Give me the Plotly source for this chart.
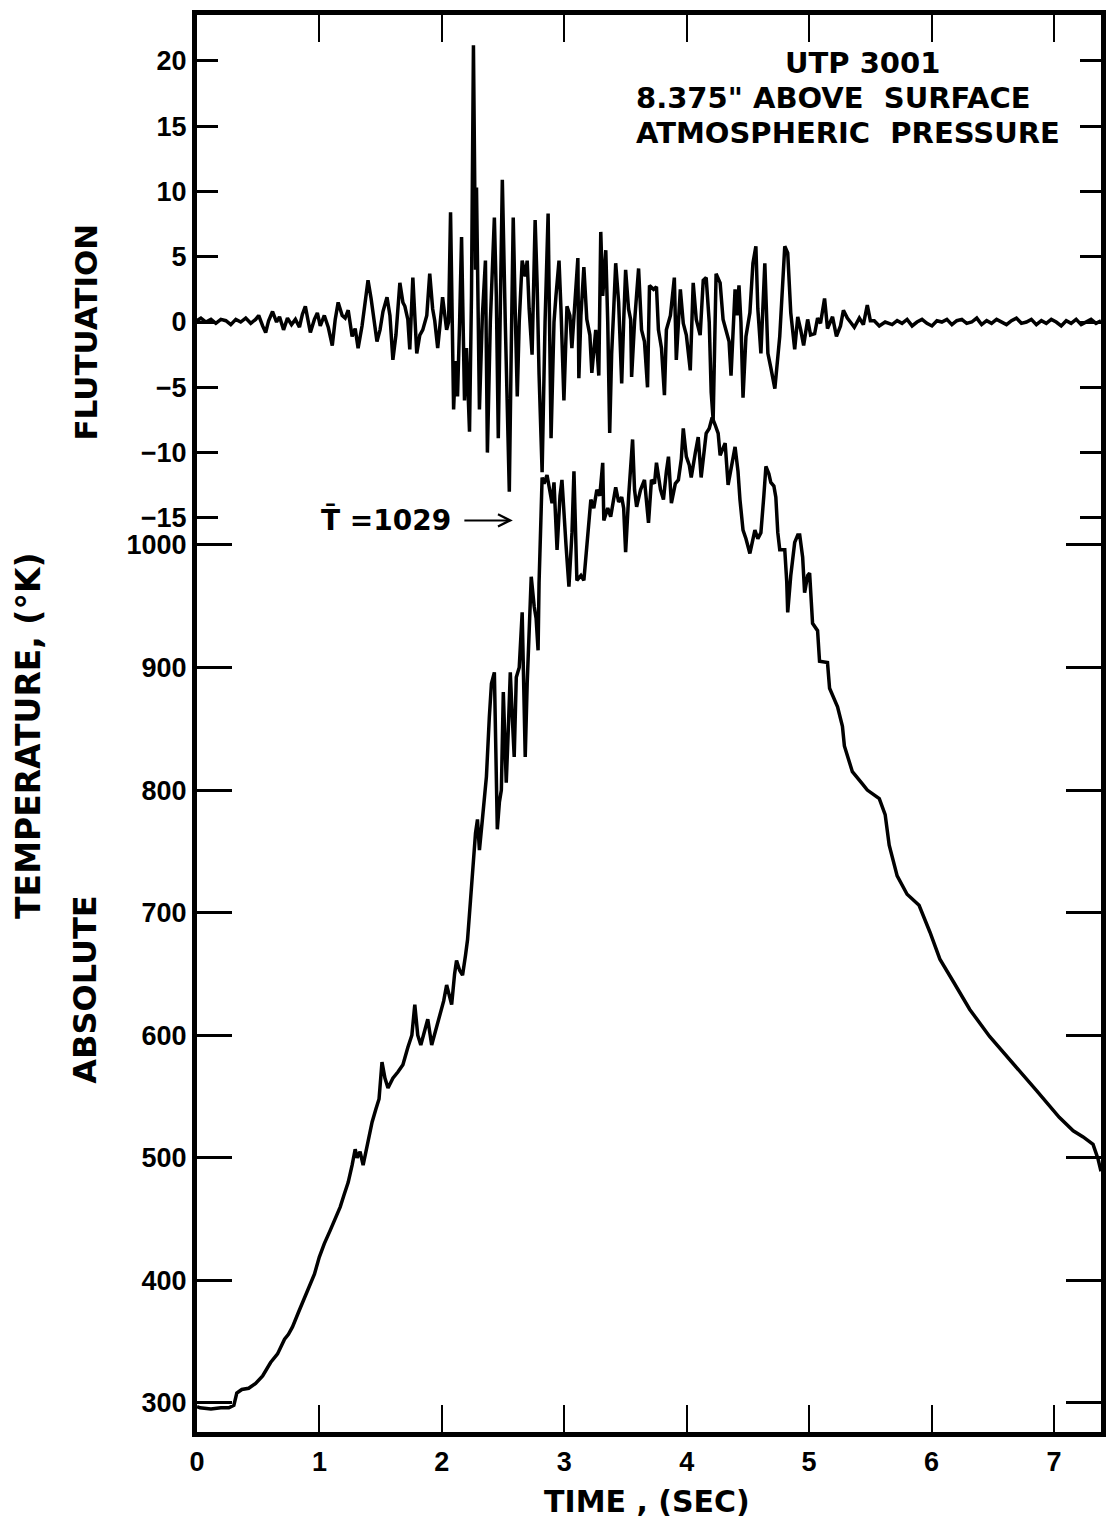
import plotly.graph_objects as go

# ---------------------------------------------------------------------------
# UTP 3001 record: temperature fluctuation and absolute temperature vs time
# ---------------------------------------------------------------------------

# Fluctuation trace (time in s, fluctuation in K)
flut_time = [
    0.000, 0.032, 0.073, 0.114, 0.154, 0.195, 0.236, 0.276, 0.317, 0.357,
    0.398, 0.439, 0.479, 0.504, 0.536, 0.561, 0.585, 0.617, 0.650, 0.674,
    0.707, 0.739, 0.772, 0.804, 0.837, 0.861, 0.885, 0.910, 0.926, 0.959,
    0.983, 1.007, 1.040, 1.072, 1.105, 1.129, 1.153, 1.186, 1.210, 1.235,
    1.267, 1.292, 1.316, 1.348, 1.373, 1.397, 1.422, 1.446, 1.470, 1.495,
    1.519, 1.552, 1.576, 1.600, 1.625, 1.657, 1.682, 1.698, 1.722, 1.738,
    1.763, 1.795, 1.820, 1.844, 1.877, 1.901, 1.925, 1.942, 1.966, 1.982,
    2.006, 2.039, 2.055, 2.071, 2.096, 2.112, 2.128, 2.145, 2.161, 2.185,
    2.201, 2.226, 2.242, 2.258, 2.275, 2.283, 2.307, 2.331, 2.356, 2.372,
    2.396, 2.429, 2.445, 2.461, 2.478, 2.494, 2.518, 2.551, 2.567, 2.583,
    2.599, 2.616, 2.632, 2.656, 2.681, 2.697, 2.713, 2.737, 2.762, 2.778,
    2.794, 2.819, 2.843, 2.868, 2.892, 2.916, 2.932, 2.957, 2.973, 2.997,
    3.022, 3.046, 3.062, 3.087, 3.111, 3.119, 3.136, 3.160, 3.184, 3.209,
    3.225, 3.257, 3.282, 3.298, 3.314, 3.339, 3.355, 3.371, 3.387, 3.404,
    3.420, 3.444, 3.469, 3.485, 3.501, 3.525, 3.542, 3.550, 3.574, 3.607,
    3.631, 3.655, 3.680, 3.696, 3.729, 3.753, 3.769, 3.794, 3.818, 3.834,
    3.867, 3.899, 3.915, 3.948, 3.972, 3.997, 4.029, 4.053, 4.078, 4.110,
    4.135, 4.159, 4.184, 4.200, 4.216, 4.240, 4.273, 4.297, 4.322, 4.346,
    4.362, 4.395, 4.411, 4.427, 4.443, 4.460, 4.484, 4.516, 4.541, 4.565,
    4.581, 4.606, 4.638, 4.663, 4.687, 4.720, 4.760, 4.785, 4.801, 4.825,
    4.850, 4.882, 4.907, 4.931, 4.955, 4.988, 5.012, 5.045, 5.069, 5.093,
    5.126, 5.150, 5.191, 5.223, 5.256, 5.280, 5.312, 5.337, 5.369, 5.410,
    5.443, 5.475, 5.500, 5.532, 5.573, 5.621,
    5.678, 5.719, 5.759, 5.800, 5.841, 5.881, 5.922, 5.962, 6.003, 6.044,
    6.084, 6.125, 6.166, 6.206, 6.247, 6.287, 6.328, 6.369, 6.409, 6.450,
    6.490, 6.531, 6.572, 6.612, 6.653, 6.693, 6.734, 6.775, 6.815, 6.856,
    6.897, 6.937, 6.978, 7.018, 7.059, 7.100, 7.140, 7.181, 7.222, 7.262,
    7.303, 7.343, 7.384,
]
flut_value = [
    0.1, 0.3, 0.0, 0.2, -0.1, 0.2, 0.1, -0.2, 0.2, 0.0,
    0.3, -0.1, 0.2, 0.5, -0.3, -0.8, 0.1, 0.8, 0.0, 0.4,
    -0.6, 0.3, -0.2, 0.2, -0.4, 0.6, 1.2, 0.1, -0.8, 0.2,
    0.7, -0.3, 0.5, -0.4, -1.8, 0.2, 1.5, 0.5, 0.3, 0.9,
    -1.1, -0.5, -2.0, -0.3, 1.5, 3.2, 1.8, 0.2, -1.5, -0.6,
    0.8, 1.9, 0.5, -2.9, -1.0, 3.0, 1.5, 1.2, 0.2, -2.1,
    3.4, -2.4, -1.0, -0.6, 0.5, 3.7, 1.0, 0.1, -2.0, -0.5,
    1.9, -0.6, 0.0, 8.4, -6.7, -3.0, -5.7, 0.0, 6.5, -6.0,
    -2.0, -8.4, 2.0, 21.2, 4.0, 10.3, -6.7, 0.5, 4.7, -10.0,
    0.0, 8.0, 2.0, -8.9, 1.0, 10.9, 0.0, -13.0, -2.0, 8.0,
    1.0, -5.7, 0.0, 4.7, 3.5, 4.7, 1.0, -2.5, 7.8, 3.0,
    -4.0, -11.5, 0.0, 8.3, -8.9, 0.0, 2.0, 4.7, 1.0, -6.0,
    1.2, 0.5, -2.0, 1.5, 4.9, -4.3, 0.5, 4.2, 0.2, -1.0,
    -3.9, -0.6, -4.1, 6.9, 2.0, 5.5, 0.0, -8.5, -2.4, 1.0,
    4.5, 1.5, -4.7, 0.0, 4.0, 1.0, 0.2, -4.2, 0.0, 4.1,
    -0.6, -1.5, -5.0, 2.8, 2.5, 2.7, -0.6, -2.0, -5.6, -0.6,
    0.5, 3.4, -2.9, 2.5, -0.1, -1.0, -3.7, 3.0, 0.2, -1.0,
    3.2, 3.4, 0.0, -5.4, -7.5, 3.7, 3.0, 0.2, -0.6, -1.5,
    -4.1, 2.5, 0.5, 2.8, 0.0, -5.8, -1.1, 0.7, 4.5, 5.8,
    1.0, -2.4, 4.5, -2.4, -3.5, -5.1, -1.1, 3.0, 5.8, 5.3,
    0.7, -2.1, 0.4, -0.6, -1.8, 0.2, -1.0, -0.9, 0.3, -0.1,
    1.8, -0.5, 0.4, -1.1, -0.3, 0.9, 0.3, 0.0, -0.4, 0.3,
    -0.2, 1.3, 0.1, 0.1, -0.3, 0.0,
    -0.2, 0.1, -0.1, 0.2, -0.3, 0.0, 0.2, -0.1, -0.3, 0.1,
    0.0, 0.2, -0.2, 0.1, 0.2, -0.1, 0.0, 0.3, -0.2, 0.1,
    -0.1, 0.2, 0.0, -0.2, 0.1, 0.3, -0.1, 0.0, 0.2, -0.2,
    0.1, -0.1, 0.2, 0.0, -0.3, 0.1, -0.1, 0.2, -0.2, 0.0,
    0.2, -0.1, 0.1,
]

# Absolute temperature trace (time in s, temperature in K)
temp_time = [
    0.000, 0.024, 0.114, 0.195, 0.260, 0.301, 0.325, 0.366, 0.422, 0.479,
    0.536, 0.601, 0.658, 0.715, 0.747, 0.780, 0.829, 0.877, 0.918, 0.959,
    0.999, 1.040, 1.089, 1.129, 1.170, 1.202, 1.235, 1.267, 1.292, 1.308,
    1.332, 1.357, 1.397, 1.430, 1.462, 1.487, 1.511, 1.535, 1.560, 1.600,
    1.641, 1.682, 1.722, 1.755, 1.779, 1.803, 1.828, 1.860, 1.885, 1.917,
    1.950, 1.982, 2.015, 2.039, 2.063, 2.080, 2.104, 2.120, 2.145, 2.169,
    2.193, 2.210, 2.234, 2.250, 2.275, 2.291, 2.307, 2.331, 2.364, 2.388,
    2.405, 2.429, 2.445, 2.453, 2.470, 2.486, 2.502, 2.518, 2.526, 2.543,
    2.559, 2.575, 2.591, 2.608, 2.632, 2.656, 2.664, 2.681, 2.697, 2.713,
    2.730, 2.754, 2.770, 2.786, 2.794, 2.819, 2.835, 2.859, 2.884, 2.900,
    2.916, 2.941, 2.965, 2.981, 3.014, 3.038, 3.063, 3.079, 3.103, 3.136,
    3.160, 3.184, 3.217, 3.241, 3.266, 3.290, 3.314, 3.323, 3.355, 3.379,
    3.404, 3.420, 3.444, 3.469, 3.485, 3.501, 3.526, 3.558, 3.574, 3.591,
    3.623, 3.655, 3.688, 3.712, 3.737, 3.753, 3.786, 3.810, 3.834, 3.851,
    3.875, 3.907, 3.932, 3.956, 3.972, 3.997, 4.021, 4.037, 4.070, 4.094,
    4.118, 4.143, 4.159, 4.184, 4.208, 4.232, 4.257, 4.273, 4.297, 4.314,
    4.338, 4.370, 4.395, 4.419, 4.435, 4.460, 4.484, 4.516, 4.541, 4.557,
    4.581, 4.606, 4.630, 4.647, 4.671, 4.687, 4.712, 4.728, 4.744, 4.760,
    4.801, 4.817, 4.825, 4.850, 4.882, 4.907, 4.923, 4.947, 4.963, 4.988,
    5.004, 5.028, 5.069, 5.085, 5.150, 5.167, 5.232, 5.272, 5.288, 5.353,
    5.435, 5.475, 5.573, 5.621, 5.654, 5.719, 5.800, 5.898, 5.987, 6.068,
    6.182, 6.312, 6.474, 6.669, 6.856, 7.043, 7.157, 7.238, 7.319, 7.360,
    7.384,
]
temp_value = [
    297, 296, 295, 296, 296, 298, 308, 311, 312, 316,
    322, 333, 340, 352, 356, 362, 374, 385, 395, 405,
    419, 430, 441, 450, 460, 470, 480, 494, 507, 500,
    505, 494, 512, 529, 540, 548, 578, 565, 557, 565,
    570, 576, 590, 600, 625, 600, 592, 605, 613, 592,
    605, 617, 628, 641, 630, 625, 650, 661, 653, 649,
    665, 678, 710, 735, 765, 776, 751, 776, 811, 860,
    887, 896, 830, 768, 790, 800, 880, 840, 806, 850,
    896, 860, 827, 892, 900, 945, 900, 827, 887, 930,
    974, 950, 940, 914, 969, 1055, 1050, 1057, 1045, 1034,
    1051, 996, 1040, 1053, 1000, 966, 1010, 1060, 971, 975,
    971, 1000, 1037, 1030, 1045, 1040, 1067, 1020, 1030, 1023,
    1040, 1047, 1035, 1039, 1030, 994, 1040, 1086, 1045, 1031,
    1045, 1053, 1018, 1053, 1050, 1067, 1045, 1037, 1060, 1072,
    1034, 1050, 1053, 1070, 1095, 1072, 1065, 1055, 1075, 1088,
    1055, 1080, 1091, 1095, 1104, 1098, 1091, 1073, 1080, 1083,
    1049, 1065, 1080, 1060, 1037, 1012, 1005, 993, 1005, 1012,
    1005, 1010, 1040, 1064, 1058, 1051, 1048, 1039, 1010, 996,
    996, 970, 945, 975, 1002, 1008, 1008, 990, 961, 975,
    977, 936, 930, 905, 904, 883, 868, 852, 836, 815,
    805, 800, 793, 780, 755, 730, 715, 706, 684, 662,
    643, 621, 599, 577, 555, 533, 522, 517, 511, 499,
    489,
]

# Axis ticks
time_ticks = [0, 1, 2, 3, 4, 5, 6, 7]
temp_ticks = [300, 400, 500, 600, 700, 800, 900, 1000]
flut_ticks = [-15, -10, -5, 0, 5, 10, 15, 20]
flut_major = [-10, 0, 10, 20]

# Mean-temperature marker
mean_temp_label = "T\u0304 =1029"
mean_temp_time = 2.58
mean_temp_level = 1020

TICK_FONT = dict(family="Liberation Sans", size=27, color="black", weight="bold")


def text_font(size):
    return dict(family="DejaVu Sans", size=size, color="black", weight="bold")


fig = go.Figure()
fig.add_trace(go.Scatter(
    x=temp_time, y=temp_value, mode="lines", yaxis="y",
    line=dict(color="black", width=3.5), hoverinfo="skip", showlegend=False,
))
fig.add_trace(go.Scatter(
    x=flut_time, y=flut_value, mode="lines", yaxis="y2",
    line=dict(color="black", width=3.5), hoverinfo="skip", showlegend=False,
))

frame = dict(showline=True, linewidth=5, linecolor="black", showgrid=False,
             zeroline=False, ticks="inside", tickcolor="black")

fig.update_layout(
    width=1113, height=1523,
    margin=dict(l=197, r=7, t=15, b=91),
    paper_bgcolor="white", plot_bgcolor="white",
    showlegend=False,
    xaxis=dict(**frame, range=[0, 7.384], tickmode="array", tickvals=time_ticks,
               ticklen=27, tickwidth=2, mirror="ticks", tickfont=TICK_FONT,
               ticklabelstandoff=2),
    yaxis=dict(**frame, range=[276.3, 1432.3], tickmode="array", tickvals=temp_ticks,
               ticklen=35, tickwidth=2.5, mirror="ticks", tickfont=TICK_FONT,
               ticklabelstandoff=0),
    yaxis2=dict(**frame, range=[-85.0, 23.51], overlaying="y", side="left", anchor="x",
                tickmode="array", tickvals=flut_ticks, ticklen=21, tickwidth=2.5,
                mirror="ticks", tickfont=TICK_FONT, ticklabelstandoff=0),
    yaxis3=dict(range=[-85.0, 23.51], overlaying="y", side="left", anchor="x",
                showline=False, showgrid=False, zeroline=False, ticks="inside",
                tickmode="array", tickvals=flut_major, ticklen=37, tickwidth=2.5,
                tickcolor="black", showticklabels=False),
)

annotations = [
    dict(text="FLUTUATION", x=-0.1232, y=0.7763, textangle=-90, size=31),
    dict(text="TEMPERATURE, (°K)", x=-0.1859, y=0.4919, textangle=-90, size=33),
    dict(text="ABSOLUTE", x=-0.1243, y=0.3119, textangle=-90, size=32),
    dict(text="TIME , (SEC)", x=0.4983, y=-0.049, size=30),
    dict(text="UTP 3001", x=0.7360, y=0.9661, size=29),
    dict(text="8.375\" ABOVE  SURFACE", x=0.4840, y=0.9414, xanchor="left", size=29),
    dict(text="ATMOSPHERIC  PRESSURE", x=0.4840, y=0.9167, xanchor="left", size=29),
]
for a in annotations:
    size = a.pop("size")
    fig.add_annotation(xref="paper", yref="paper", showarrow=False,
                       xanchor=a.pop("xanchor", "center"), yanchor="middle",
                       borderpad=0, font=text_font(size), **a)

fig.add_annotation(x=2.092, y=mean_temp_level, xref="x", yref="y",
                   text=mean_temp_label, showarrow=False,
                   xanchor="right", yanchor="middle", font=text_font(28))
fig.add_annotation(x=mean_temp_time, y=mean_temp_level, xref="x", yref="y",
                   text="", showarrow=True, ax=-50, ay=0,
                   arrowhead=5, arrowsize=1.2, arrowwidth=2, arrowcolor="black")

fig.write_html("out.html")
